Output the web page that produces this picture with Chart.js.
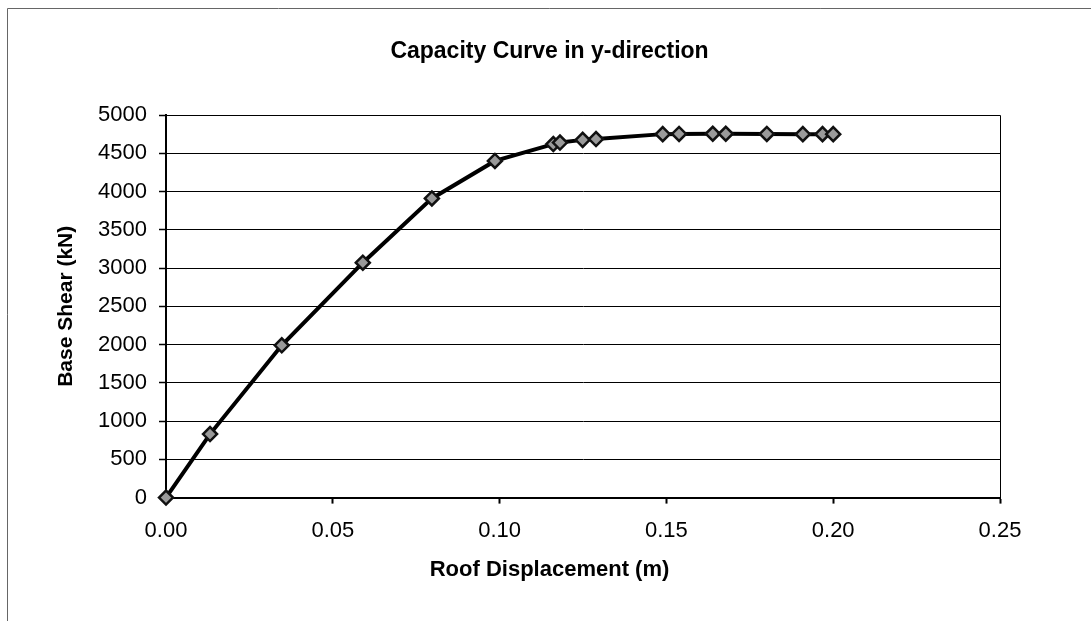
<!DOCTYPE html>
<html>
<head>
<meta charset="utf-8">
<script src="https://cdn.jsdelivr.net/npm/chart.js@4/dist/chart.umd.min.js"></script>
<style>
  html, body { margin: 0; padding: 0; background: #fff; }
  #wrap { position: relative; width: 1091px; height: 621px; }
</style>
</head>
<body>
<div id="wrap"><canvas id="c" width="1091" height="621"></canvas></div>
<script>
// ---- data ----
const roofDisplacement = [0, 0.0132, 0.0347, 0.0590, 0.0797, 0.0986, 0.1161, 0.1181, 0.1249, 0.1289, 0.1489, 0.1538, 0.1639, 0.1678, 0.1801, 0.1909, 0.1968, 0.2000];
const baseShear        = [0, 830, 1990, 3070, 3910, 4400, 4620, 4640, 4675, 4685, 4750, 4752, 4755, 4755, 4752, 4750, 4750, 4750];
const chartTitle = 'Capacity Curve in y-direction';
const xAxisTitle = 'Roof Displacement (m)';
const yAxisTitle = 'Base Shear (kN)';
const xTickRange = { min: 0, max: 0.25, step: 0.05 };
const yTickRange = { min: 0, max: 5000, step: 500 };

const points = roofDisplacement.map((x, i) => ({ x: x, y: baseShear[i] }));

const FONT = '"Liberation Sans", Arial, Helvetica, sans-serif';
Chart.defaults.color = '#000';
Chart.defaults.font.family = FONT;

const framePlugin = {
  id: 'frame',
  beforeDraw(chart) {
    const ctx = chart.ctx;
    ctx.save();
    ctx.strokeStyle = '#666';
    ctx.lineWidth = 1;
    ctx.beginPath();
    ctx.moveTo(7.5, 621);
    ctx.lineTo(7.5, 8.5);
    ctx.lineTo(1091, 8.5);
    ctx.stroke();
    ctx.restore();
  }
};

const plotBorder = {
  id: 'plotBorder',
  beforeDatasetsDraw(chart) {
    const a = chart.chartArea;
    const ctx = chart.ctx;
    ctx.save();
    ctx.strokeStyle = '#000';
    ctx.lineWidth = 1;
    ctx.beginPath();
    ctx.moveTo(a.left, a.top + 0.5);
    ctx.lineTo(a.right + 0.5, a.top + 0.5);
    ctx.lineTo(a.right + 0.5, a.bottom);
    ctx.stroke();
    ctx.restore();
  }
};

new Chart(document.getElementById('c'), {
  type: 'scatter',
  data: {
    datasets: [{
      data: points,
      showLine: true,
      tension: 0,
      borderColor: '#000',
      borderWidth: 4,
      pointStyle: 'rectRot',
      pointRadius: 7,
      pointHoverRadius: 7,
      pointBackgroundColor: '#9a9a9a',
      pointBorderColor: '#111',
      pointBorderWidth: 2.5,
      clip: false
    }]
  },
  options: {
    responsive: false,
    animation: false,
    devicePixelRatio: 1,
    layout: { padding: { left: 8, right: 0, top: 8, bottom: 38 } },
    plugins: {
      legend: { display: false },
      tooltip: { enabled: false },
      title: {
        display: true,
        text: chartTitle,
        color: '#000',
        font: { family: FONT, size: 23, weight: 'bold', lineHeight: 1.2 },
        padding: { top: 30, bottom: 49.4 }
      },
      subtitle: {
        display: true,
        position: 'bottom',
        text: xAxisTitle,
        color: '#000',
        font: { family: FONT, size: 22, weight: 'bold', lineHeight: 1.2 },
        padding: { top: 10, bottom: 0 }
      }
    },
    scales: {
      x: {
        type: 'linear',
        position: 'bottom',
        min: xTickRange.min,
        max: xTickRange.max,
        afterFit(s) { s.height = 49; },
        ticks: {
          stepSize: xTickRange.step,
          padding: 14,
          font: { family: FONT, size: 22 },
          color: '#000',
          callback: v => Number(v).toFixed(2)
        },
        grid: { display: true, drawOnChartArea: false, drawTicks: true, tickLength: 6, tickColor: '#000', tickWidth: 2 },
        border: { display: true, color: '#000', width: 2 }
      },
      y: {
        type: 'linear',
        position: 'left',
        min: yTickRange.min,
        max: yTickRange.max,
        afterFit(s) { s.width = 158; },
        ticks: {
          stepSize: yTickRange.step,
          padding: 12,
          font: { family: FONT, size: 22 },
          color: '#000',
          callback: v => String(v)
        },
        title: {
          display: true,
          text: yAxisTitle,
          color: '#000',
          font: { family: FONT, size: 21, weight: 'bold', lineHeight: 1.2 },
          padding: { top: 46, bottom: 0 }
        },
        grid: { color: '#000', lineWidth: 1, drawTicks: true, tickLength: 7, tickColor: '#000', tickWidth: 1.5 },
        border: { display: true, color: '#000', width: 2 }
      },
      y2: {
        type: 'linear',
        position: 'right',
        display: true,
        afterFit(s) { s.width = 91; },
        ticks: { display: false },
        grid: { display: false },
        border: { display: false }
      }
    }
  },
  plugins: [framePlugin, plotBorder]
});
</script>
</body>
</html>
